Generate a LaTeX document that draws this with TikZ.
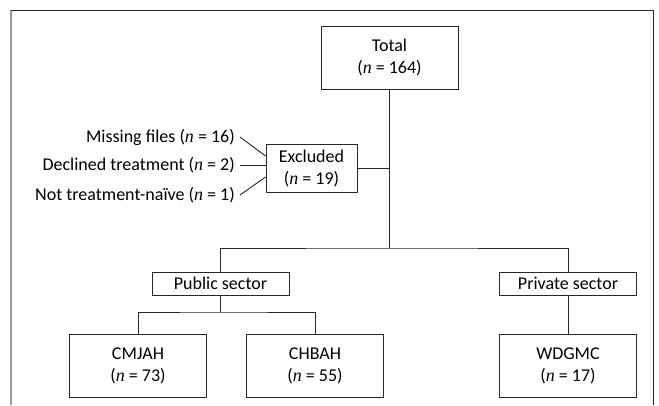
\documentclass[tikz,border=0pt]{standalone}
\usepackage{fontspec}
\setmainfont{Carlito}
\newfontfamily\nfont{Liberation Serif}
\usepackage{tikz}
\definecolor{framegray}{rgb}{0.6, 0.6, 0.6}
\definecolor{linegray}{rgb}{0.15, 0.15, 0.15}
\newcommand{\nn}{{\nfont\itshape n}}

\begin{document}
\begin{tikzpicture}[x=1pt, y=-1pt,
    font=\fontsize{18}{22}\selectfont,
    box/.style={draw=linegray, line width=0.9pt, align=center, inner sep=0pt},
    bigbox/.style={box, minimum width=137pt, minimum height=63pt},
    secbox/.style={box, minimum width=137pt, minimum height=23pt},
    reason/.style={anchor=east, inner sep=2pt},
    link/.style={linegray, line width=0.9pt}]
    \useasboundingbox (0,0) rectangle (659,405);
    % frame
    \draw[framegray, line width=1.6pt] (11,405) -- (11,10);
    \draw[linegray, line width=0.9pt] (11,10) -- (653,10) -- (653,405);
    % boxes
    \node[bigbox] (total) at (389.5,57.5) {Total\\(\nn{} = 164)};
    \node[box, minimum width=91pt, minimum height=48pt] (excl) at (311.5,168) {Excluded\\(\nn{} = 19)};
    \node[secbox] (pub) at (220.5,283.5) {Public sector};
    \node[secbox] (priv) at (568,283.5) {Private sector};
    \node[bigbox] (cmjah) at (138,365.5) {CMJAH\\(\nn{} = 73)};
    \node[bigbox] (chbah) at (315,365.5) {CHBAH\\(\nn{} = 55)};
    \node[bigbox] (wdgmc) at (568,365.5) {WDGMC\\(\nn{} = 17)};
    % reasons for exclusion
    \node[reason] (miss) at (237,137) {Missing files (\nn{} = 16)};
    \node[reason] (decl) at (237,165) {Declined treatment (\nn{} = 2)};
    \node[reason] (naive) at (237,195) {Not treatment-naïve (\nn{} = 1)};
    \coordinate (split) at (389.5,248);
    \coordinate (pubsplit) at (220.5,312);
    % connectors
    \draw[link] (total.south) -- (split);
    \draw[link] (excl.east) -- (excl.east -| split);
    \draw[link] (pub.north) |- (split) -| (priv.north);
    \draw[link] (pub.south) -- (pubsplit);
    \draw[link] (cmjah.north) |- (pubsplit) -| (chbah.north);
    \draw[link] (priv.south) -- (wdgmc.north);
    \draw[link] ([xshift=3pt]miss.east) -- ([yshift=12pt]excl.west);
    \draw[link] ([xshift=3pt]decl.east) -- ([yshift=3pt]excl.west);
    \draw[link] ([xshift=3pt]naive.east) -- ([yshift=-9pt]excl.west);
\end{tikzpicture}
\end{document}
